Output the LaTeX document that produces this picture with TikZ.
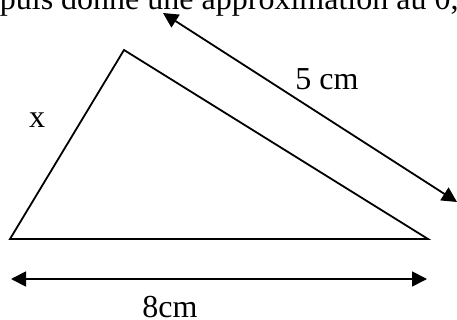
\documentclass[tikz,border=0pt]{standalone}
\usepackage{fontspec}
\setmainfont{Liberation Serif}
\usetikzlibrary{arrows.meta}
\begin{document}
\begin{tikzpicture}[x=1pt, y=-1pt, line width=1.8pt, >={Triangle[length=15pt,width=15pt]},
    lbl/.style={font=\fontsize{32}{38}\selectfont, inner sep=0pt}]
        % ==== FRAME ====
        \useasboundingbox (0,0) rectangle (457,320);

        % ==== TEXT ABOVE (cut) ====
        \node[lbl, anchor=base west] (phrase) at (-1,10) {puis donne une approximation au 0,};

        % ==== TRIANGLE ====
        \coordinate (A) at (10,239);
        \coordinate (B) at (124,50);
        \coordinate (C) at (428,239);
        \draw[line join=miter] (A) -- (B) -- (C) -- cycle;
        \node[lbl, anchor=base] (side) at (37,128) {x};

        % ==== ARROW 5 cm ====
        \coordinate (P) at (163,13);
        \coordinate (Q) at (457,202);
        \draw[<->] (P) -- (Q);
        \node[lbl, anchor=base] (five) at (327,90) {5 cm};

        % ==== ARROW 8cm ====
        \coordinate (L) at (11,279);
        \coordinate (R) at (427,279);
        \draw[<->] (L) -- (R);
        \node[lbl, anchor=base] (eight) at (170,317) {8cm};
    \end{tikzpicture}
\end{document}
